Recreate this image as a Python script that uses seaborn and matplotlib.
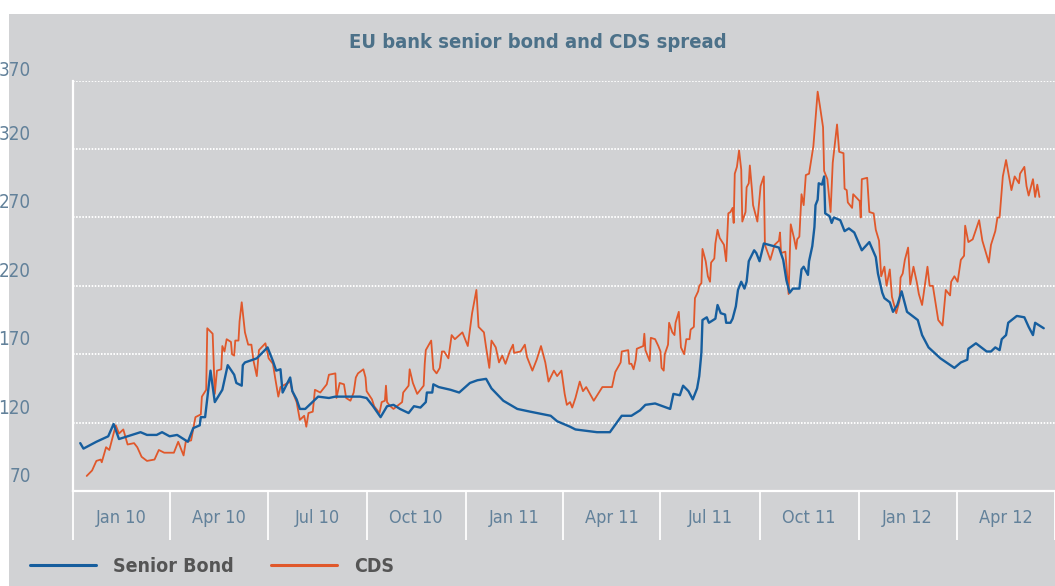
import matplotlib
matplotlib.use("Agg")
import matplotlib.pyplot as plt
from matplotlib.patches import Rectangle
from matplotlib.lines import Line2D
import numpy as np
import pandas as pd
import seaborn as sns

# ---- data, days counted from 1 Jan 2010 ----
START = pd.Timestamp("2010-01-01")

bond_days = [7, 10, 22, 33, 38, 43, 55, 63, 69, 78, 83, 90, 97, 107, 112, 118, 119, 123, 128, 132,
             139, 144, 150, 152, 157, 158, 160, 171, 181, 186, 189, 193, 195, 202, 204, 208, 211, 216,
             228, 238, 244, 258, 267, 273, 279, 286, 292, 298, 304, 312, 317, 323, 328, 329, 334, 335,
             340, 351, 359, 369, 376, 384, 389, 400, 413, 425, 444, 450, 462, 467, 487, 499, 510, 519,
             527, 532, 541, 555, 558, 564, 567, 572, 576, 580, 582, 584, 585, 589, 591, 597, 599, 602,
             606, 607, 611, 613, 616, 618, 621, 624, 626, 628, 633, 635, 638, 642, 656, 660, 663, 666,
             669, 675, 677, 679, 683, 684, 687, 689, 690, 692, 693, 696, 698, 699, 703, 705, 707, 713,
             717, 721, 726, 733, 740, 746, 748, 752, 754, 759, 762, 766, 770, 775, 785, 789, 795, 806,
             819, 825, 831, 832, 839, 849, 853, 857, 861, 863, 867, 869, 877, 884, 888, 892, 894, 902]
bond_values = [105, 101, 106, 110, 119, 108, 111, 113, 111, 111, 113, 110, 111, 106, 116, 118, 124, 124, 158, 135,
               144, 162, 155, 149, 147, 162, 164, 167, 175, 165, 158, 159, 142, 153, 143, 137, 130, 130,
               139, 138, 139, 139, 139, 138, 132, 124, 132, 133, 130, 127, 132, 131, 135, 142, 142, 148,
               146, 144, 142, 149, 151, 152, 145, 136, 130, 128, 125, 121, 117, 115, 113, 113, 125, 125,
               129, 133, 134, 130, 141, 140, 147, 143, 137, 145, 154, 171, 195, 197, 193, 196, 206, 200,
               199, 193, 193, 196, 205, 217, 223, 218, 223, 238, 246, 244, 238, 251, 248, 239, 224, 215,
               218, 218, 232, 234, 228, 238, 249, 263, 279, 283, 295, 294, 300, 273, 271, 266, 270, 268,
               260, 262, 259, 246, 252, 241, 229, 215, 211, 208, 201, 206, 216, 201, 195, 184, 175, 167,
               160, 164, 166, 174, 178, 172, 172, 175, 173, 181, 184, 193, 198, 197, 190, 184, 193, 189]

cds_days = [13, 18, 22, 26, 27, 31, 34, 40, 43, 47, 51, 57, 60, 64, 69, 76, 80, 85, 94, 98,
            103, 105, 110, 114, 119, 120, 124, 125, 130, 132, 134, 138, 139, 141, 143, 147, 148, 150, 151, 154,
            155, 157, 160, 163, 166, 168, 171, 173, 179, 182, 186, 188, 191, 193, 202, 204, 208, 211, 215, 217,
            219, 223, 225, 230, 236, 238, 244, 245, 248, 252, 254, 258, 261, 263, 265, 270, 272, 273, 278, 280,
            285, 287, 290, 291, 292, 295, 298, 306, 307, 312, 313, 316, 320, 326, 327, 328, 333, 335, 338, 341,
            343, 345, 349, 352, 355, 362, 367, 369, 371, 375, 377, 382, 384, 387, 389, 393, 396, 399, 402, 406,
            409, 410, 416, 420, 422, 427, 431, 435, 439, 442, 447, 450, 454, 457, 459, 462, 464, 467, 471, 474,
            477, 484, 492, 501, 504, 509, 510, 516, 517, 519, 521, 523, 524, 530, 531, 532, 536, 537, 541, 544,
            546, 547, 549, 550, 553, 554, 557, 559, 560, 563, 565, 568, 570, 573, 574, 577, 578, 581, 582, 584,
            585, 588, 590, 592, 593, 596, 597, 599, 601, 605, 607, 609, 611, 613, 614, 615, 617, 619, 621, 622,
            625, 626, 628, 629, 631, 632, 636, 639, 642, 643, 648, 652, 656, 657, 658, 662, 665, 667, 670, 672,
            673, 675, 677, 679, 681, 684, 688, 692, 694, 697, 698, 701, 704, 706, 710, 712, 716, 717, 719, 720,
            724, 725, 731, 732, 733, 738, 740, 744, 746, 749, 751, 754, 756, 759, 761, 765, 768, 769, 771, 773,
            776, 778, 781, 784, 786, 789, 794, 796, 799, 801, 804, 808, 811, 815, 816, 819, 822, 825, 828, 829,
            832, 836, 842, 845, 851, 853, 857, 859, 861, 864, 867, 872, 875, 879, 880, 884, 886, 888, 892, 894,
            896, 898]
cds_values = [81, 85, 92, 93, 91, 102, 100, 118, 112, 115, 104, 105, 102, 95, 92, 93, 100, 98, 98, 106,
              96, 106, 107, 124, 126, 139, 144, 189, 185, 141, 158, 159, 176, 172, 181, 179, 170, 169, 180, 180,
              194, 208, 186, 177, 177, 165, 154, 173, 178, 167, 163, 153, 139, 146, 150, 143, 135, 122, 125, 117,
              127, 128, 144, 142, 148, 155, 156, 138, 149, 148, 138, 136, 142, 153, 156, 159, 153, 143, 137, 132,
              127, 135, 136, 147, 135, 132, 130, 135, 142, 147, 159, 149, 141, 147, 163, 173, 180, 159, 156, 160,
              172, 172, 167, 184, 181, 186, 176, 188, 200, 217, 190, 186, 175, 160, 180, 175, 164, 169, 163, 172,
              177, 171, 172, 177, 168, 158, 166, 176, 164, 150, 158, 154, 158, 141, 133, 135, 131, 138, 150, 143,
              146, 136, 146, 146, 157, 164, 172, 173, 163, 163, 159, 166, 174, 176, 185, 173, 165, 182, 181, 176,
              172, 160, 158, 170, 177, 193, 186, 184, 193, 201, 175, 170, 181, 181, 188, 190, 211, 216, 220, 222,
              247, 238, 227, 223, 237, 240, 251, 261, 255, 250, 238, 273, 274, 277, 266, 302, 307, 319, 305, 267,
              274, 292, 295, 308, 290, 279, 267, 293, 300, 250, 239, 250, 253, 259, 244, 245, 214, 265, 255, 247,
              254, 256, 287, 279, 301, 302, 322, 362, 352, 336, 304, 298, 274, 310, 338, 318, 317, 291, 290, 281,
              277, 287, 282, 270, 298, 299, 274, 273, 261, 253, 227, 234, 220, 232, 212, 200, 209, 226, 229, 239,
              248, 221, 234, 223, 214, 206, 234, 220, 220, 210, 195, 191, 217, 213, 223, 227, 223, 239, 242, 264,
              252, 254, 268, 253, 237, 250, 260, 270, 270, 300, 312, 290, 300, 295, 302, 307, 293, 286, 298, 285,
              294, 285]

y_ticks = [70, 120, 170, 220, 270, 320, 370]
quarter_starts = ["2010-01-01", "2010-04-01", "2010-07-01", "2010-10-01", "2011-01-01", "2011-04-01",
                  "2011-07-01", "2011-10-01", "2012-01-01", "2012-04-01", "2012-07-01"]
quarter_labels = ["Jan 10", "Apr 10", "Jul 10", "Oct 10", "Jan 11", "Apr 11",
                  "Jul 11", "Oct 11", "Jan 12", "Apr 12"]

BOND_COLOR = "#165e9e"
CDS_COLOR = "#e0582b"
PANEL = "#d1d2d4"
TICK_COLOR = "#62819a"
TITLE_COLOR = "#4c7189"

sns.set_style("white")
plt.rcParams["font.family"] = ["DejaVu Sans"]
plt.rcParams["font.stretch"] = "condensed"

bond = pd.DataFrame({"date": START + pd.to_timedelta(bond_days, unit="D"), "spread": bond_values})
cds = pd.DataFrame({"date": START + pd.to_timedelta(cds_days, unit="D"), "spread": cds_values})

fig = plt.figure(figsize=(10.55, 5.86), dpi=100, facecolor="white")
fig.patches.append(Rectangle((9 / 1055, 0), 1, (586 - 14) / 586, transform=fig.transFigure,
                             facecolor=PANEL, edgecolor="none", zorder=-10))

ax = fig.add_axes([72.7 / 1055, 95 / 586, (1054.5 - 72.7) / 1055, 410.3 / 586])
ax.set_facecolor("none")
ax.set_zorder(2)

sns.lineplot(data=cds, x="date", y="spread", ax=ax, color=CDS_COLOR, linewidth=1.3,
             estimator=None, sort=False)
sns.lineplot(data=bond, x="date", y="spread", ax=ax, color=BOND_COLOR, linewidth=1.7,
             estimator=None, sort=False)

starts = pd.to_datetime(quarter_starts)
mids = starts[:-1] + (starts[1:] - starts[:-1]) / 2
ax.set_xlim(starts[0], starts[-1])
ax.set_ylim(y_ticks[0], y_ticks[-1])

# quarter separators below the axis, labels centred in each quarter
ax.set_xticks(starts)
ax.set_xticklabels([])
ax.set_xticks(mids, minor=True)
ax.set_xticklabels(quarter_labels, minor=True)
ax.tick_params(axis="x", which="major", bottom=True, length=35, width=1.3, color="white",
               direction="out")
ax.tick_params(axis="x", which="minor", bottom=True, length=0, pad=13, labelsize=13,
               labelcolor=TICK_COLOR)

# y labels sit just above their gridline (the top one closer, as in the original)
ax.set_yticks(y_ticks)
ax.set_yticklabels([])
ax.tick_params(axis="y", length=0)
for v in y_ticks:
    lift = 1 if v == y_ticks[-1] else 5
    ax.annotate(str(v), xy=(0, v), xycoords=("axes fraction", "data"), xytext=(-42, lift),
                textcoords="offset pixels", ha="right", va="bottom", fontsize=13.5,
                color=TICK_COLOR, annotation_clip=False)

ax.grid(axis="y", color="white", linestyle=(0, (0.8, 0.8)), linewidth=1.4)
ax.grid(axis="x", visible=False)
for side in ["top", "right"]:
    ax.spines[side].set_visible(False)
for side in ["left", "bottom"]:
    ax.spines[side].set_color("white")
    ax.spines[side].set_linewidth(1.6)
ax.set_xlabel("")
ax.set_ylabel("")

fig.text(538 / 1055, 1 - 43 / 586, "EU bank senior bond and CDS spread", ha="center", va="center",
         fontsize=14.5, fontweight="bold", color=TITLE_COLOR)

handles = [Line2D([], [], color=BOND_COLOR, linewidth=2.2), Line2D([], [], color=CDS_COLOR, linewidth=2.2)]
fig.legend(handles, ["Senior Bond", "CDS"], loc="center left", bbox_to_anchor=(30 / 1055, 1 - 566 / 586),
           ncol=2, frameon=False, handlelength=3.4, handletextpad=0.85, columnspacing=1.95,
           borderpad=0, borderaxespad=0,
           prop={"size": 14, "weight": "bold"}, labelcolor="#555555")

fig.savefig("out.png", dpi=100, facecolor="white")
